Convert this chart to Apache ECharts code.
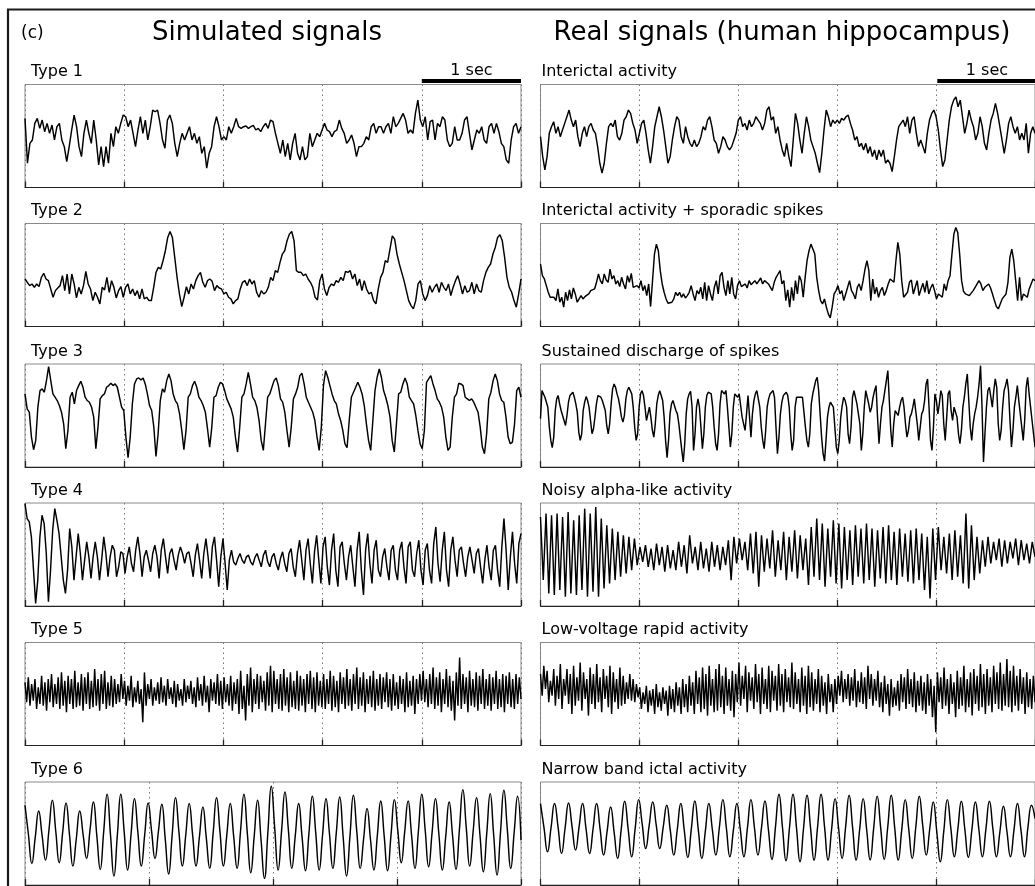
<!DOCTYPE html>
<html><head><meta charset="utf-8">
<script src="https://cdn.jsdelivr.net/npm/echarts@6/dist/echarts.min.js"></script>
<style>html,body{margin:0;padding:0;background:#fff}#chart{width:1035px;height:886px}</style>
</head><body><div id="chart"></div>
<script>
// ---- data (amplitude, arbitrary units, uniformly sampled over the panel duration) ----
const sim1=[208,73,133,143,193,208,178,203,168,193,163,188,143,183,193,143,123,78,123,173,218,183,123,93,163,203,163,133,203,143,68,123,63,123,73,163,123,183,163,193,218,213,183,203,163,123,173,213,163,203,143,183,233,228,233,193,143,118,203,218,193,133,93,133,163,143,163,183,143,163,133,153,103,123,58,103,123,183,213,183,143,153,143,183,163,183,208,183,178,183,185,178,183,187,173,178,168,183,193,178,203,198,163,133,103,143,93,133,83,133,163,103,83,123,83,93,163,123,143,163,153,173,193,173,168,153,168,173,203,178,163,133,143,158,133,93,123,123,133,153,143,183,193,163,183,183,163,183,193,163,213,183,193,208,223,203,163,173,163,223,263,203,183,213,143,198,203,143,193,183,213,203,143,123,133,183,143,143,163,203,213,163,113,143,173,163,183,143,133,183,193,163,193,168,133,123,83,73,143,183,193,163,183];
const sim2=[143,133,123,128,118,128,120,148,160,143,138,113,88,108,116,123,153,108,158,98,158,128,86,118,98,123,166,128,113,78,103,88,68,118,110,148,103,138,118,86,108,120,88,118,128,98,113,93,108,83,113,83,88,78,78,118,163,178,173,198,228,268,286,268,208,148,98,60,88,120,98,128,113,138,153,163,133,118,138,143,136,108,123,116,113,98,103,88,83,68,78,83,113,133,138,123,143,128,138,103,88,108,98,103,118,148,138,168,163,193,218,228,258,278,286,258,168,163,163,153,158,143,133,118,88,80,138,158,113,93,118,128,123,138,133,148,138,166,163,168,143,158,123,143,108,138,113,98,103,78,68,113,148,163,198,193,233,273,263,218,188,163,138,108,78,63,53,78,128,138,98,78,93,123,103,118,128,103,133,118,108,128,93,118,138,153,128,98,123,103,108,133,98,128,108,103,138,163,178,188,218,238,268,276,258,208,148,118,103,78,58,98,143];
const sim3=[220,175,165,90,52,80,180,230,235,225,260,302,260,220,210,200,185,165,130,55,110,210,225,190,230,245,258,240,210,200,195,180,150,55,120,205,215,220,240,245,252,245,250,240,210,180,170,90,28,90,190,250,265,268,262,268,250,220,185,170,120,32,100,200,235,225,260,280,260,220,200,190,160,110,52,110,210,220,245,258,240,210,200,185,165,115,60,120,210,215,240,255,250,230,205,190,175,150,90,45,120,210,220,250,285,250,210,200,180,140,80,50,130,210,220,240,260,268,245,205,195,165,110,60,120,205,220,240,275,282,250,210,195,180,165,140,90,50,120,245,290,270,245,220,200,190,160,140,110,70,58,140,210,225,240,255,240,220,185,130,80,50,140,230,270,295,270,230,210,185,150,80,45,130,220,225,250,268,250,210,200,190,155,110,70,55,110,255,265,275,250,230,205,195,180,150,90,50,60,150,210,220,252,250,245,210,205,200,205,195,180,165,120,60,40,100,205,225,260,280,260,220,200,195,150,90,70,75,130,230,240,210];
const sim4=[308,263,253,208,108,8,78,208,273,248,158,13,108,228,293,258,218,148,78,38,108,233,178,78,148,218,158,78,138,193,148,83,148,193,148,78,138,208,158,88,148,183,168,88,118,163,158,98,148,178,128,103,168,208,158,88,148,168,138,103,158,183,148,83,168,203,148,98,158,173,138,108,153,178,158,128,158,163,128,88,153,188,138,83,158,203,148,83,178,208,138,58,148,203,128,48,138,168,133,123,143,158,138,128,148,153,133,123,146,158,138,118,153,168,133,118,148,158,128,108,143,163,128,103,158,173,118,88,158,198,138,78,168,203,128,68,163,213,138,68,178,208,118,63,168,218,108,58,178,193,128,78,148,183,118,58,168,223,108,33,168,218,128,68,168,198,108,88,148,173,118,78,168,183,108,78,168,193,118,68,178,193,108,88,158,198,108,63,168,188,108,68,188,238,128,73,168,223,108,58,168,208,138,88,168,178,128,88,148,178,138,98,158,173,118,68,138,183,118,78,168,183,108,58,178,263,168,48,148,223,128,68,188,218];
const sim5=[190,130,205,120,185,135,200,110,175,125,210,120,190,105,200,130,215,115,185,125,205,110,220,120,195,100,210,125,200,110,225,115,190,120,215,105,205,125,220,110,195,115,230,120,200,105,215,125,225,110,190,120,210,115,200,125,185,130,215,140,
195,120,180,135,210,115,175,130,195,125,170,70,220,120,185,140,200,120,175,135,190,125,205,130,180,120,200,140,175,125,195,115,185,135,170,120,200,130,180,140,195,125,175,115,205,135,185,120,210,130,180,100,200,135,190,125,215,120,195,110,
205,130,185,120,210,105,190,125,200,95,225,110,180,75,215,120,235,100,200,125,215,110,210,130,195,105,220,120,240,100,225,125,200,110,215,105,230,120,205,100,220,115,195,110,225,105,210,120,200,100,215,125,225,110,205,100,220,120,195,115,
215,110,200,125,225,105,210,115,195,100,220,125,205,110,230,120,200,105,215,125,235,110,205,120,220,100,200,125,210,115,225,105,200,120,215,110,205,130,220,115,200,105,215,120,190,110,210,125,200,100,220,115,195,120,210,95,200,125,215,135,
225,130,200,115,215,125,235,110,205,120,220,100,200,125,230,115,210,105,195,75,220,120,265,110,215,125,205,100,225,120,200,115,220,105,210,125,230,110,200,120,215,105,205,125,225,110,200,115,215,100,210,125,220,115,200,110,215,125,205,140];
const sim6=[240,152,65,144,223,149,75,165,255,161,67,157,247,152,57,140,223,151,80,165,250,148,47,160,273,150,27,150,273,159,45,152,260,158,57,152,247,163,80,161,243,138,33,148,263,160,57,151,245,151,57,146,235,142,50,156,263,160,57,151,245,147,50,161,273,155,37,146,255,137,20,158,297,171,45,162,280,165,50,147,245,144,43,155,267,156,45,152,260,155,50,157,265,146,27,148,270,160,50,140,230,137,45,149,253,148,43,150,257,162,67,160,253,151,50,161,273,164,55,157,260,152,45,147,250,148,47,167,287,172,57,160,263,151,40,157,275,152,30,157,285,167,50,158,267,135];

const real1=[153,93,53,93,163,183,198,163,183,153,173,193,213,233,203,183,203,153,123,163,183,153,183,193,173,163,123,73,43,73,133,183,193,183,203,153,143,163,203,213,233,223,193,173,133,163,193,203,163,113,73,123,183,213,243,213,173,123,73,93,143,183,213,203,153,133,183,153,133,123,143,123,133,153,183,173,203,213,183,143,133,103,123,153,143,123,113,123,143,163,203,213,183,193,173,203,183,193,213,203,193,173,193,233,243,203,213,163,183,143,113,93,133,93,63,143,223,193,143,103,163,213,183,143,123,103,73,45,103,173,233,213,183,203,193,203,193,208,203,213,218,193,173,143,153,123,133,113,133,103,123,93,113,83,113,93,113,73,83,73,48,93,143,183,193,203,183,213,163,203,213,163,123,143,123,103,163,203,223,233,213,173,113,63,83,143,203,243,263,273,243,263,213,163,193,233,203,183,143,163,213,183,133,113,163,203,223,253,223,183,143,103,143,193,213,183,163,183,143,163,143,193,103,163,183,163];
const real2=[188,153,143,123,103,88,83,88,78,113,73,88,58,103,78,110,83,116,98,73,83,93,83,90,93,98,108,103,113,133,158,138,128,158,140,133,173,143,153,128,138,120,148,128,113,153,133,160,118,113,123,116,138,108,123,93,128,60,138,218,248,228,168,128,103,83,70,68,73,83,103,93,103,88,98,86,93,103,123,98,78,108,98,118,83,133,78,123,98,78,118,138,98,153,163,118,93,138,98,148,98,83,123,138,120,123,128,116,138,126,130,138,128,133,146,128,138,133,128,130,108,133,148,158,168,128,138,78,110,58,118,78,138,98,153,138,88,148,198,228,248,254,218,148,108,78,68,83,58,38,26,58,98,108,123,98,108,78,98,118,138,108,98,83,118,128,108,138,173,198,168,78,143,98,118,88,108,118,93,108,128,143,148,133,198,253,218,138,88,93,103,133,140,98,118,138,93,113,130,103,138,98,116,128,108,83,98,103,88,128,108,138,153,218,278,298,283,218,138,106,98,94,93,98,108,118,123,138,128,108,118,113,128,116,98,78,60,53,58,83,78,98,133,208,233,198,138,78,148,78,98,93,88,113,108,143,138];
const real3=[145,230,230,210,215,180,120,80,58,90,170,205,215,190,170,165,140,125,155,195,215,220,225,210,190,165,105,80,100,170,195,212,200,180,140,100,115,150,190,215,220,210,200,205,170,125,100,130,190,235,250,240,220,205,180,150,135,155,205,230,240,245,220,180,120,80,100,180,220,230,215,180,140,160,180,150,110,90,130,190,215,230,215,200,150,80,28,80,160,190,200,185,170,160,130,90,50,15,70,160,205,220,228,180,50,100,180,205,180,120,55,100,180,215,225,230,220,180,120,70,50,100,190,230,235,220,230,180,120,60,100,180,220,215,210,220,185,150,130,110,160,215,220,90,160,200,220,230,225,180,120,80,55,110,180,205,220,225,230,210,120,40,90,160,195,215,220,225,215,180,100,50,80,180,210,215,210,215,210,165,120,80,60,100,190,220,240,260,270,230,160,90,40,18,80,150,180,195,200,180,120,60,40,80,150,185,210,200,180,100,70,120,210,230,210,190,195,130,50,100,180,230,210,190,165,180,210,230,245,150,70,130,180,200,230,260,290,200,110,60,130,170,175,155,180,200,210,180,130,90,110,150,160,180,205,210,130,80,120,160,170,200,250,265,180,80,50,120,220,200,160,190,230,215,130,80,150,220,230,170,140,180,185,150,100,70,110,180,210,250,280,200,120,80,130,160,180,210,250,305,180,15,100,180,230,240,210,180,230,265,240,130,80,110,180,230,245,265,230,140,60,110,180,210,245,200,160,120,80,140,240,270,220,180,140,100,60];
const real4=[268,78,278,38,273,33,278,48,268,28,283,38,258,33,273,48,293,28,278,43,298,28,263,53,243,68,233,78,223,88,213,98,208,108,203,123,
178,133,183,118,173,108,188,123,178,103,183,113,168,108,193,118,183,98,213,128,178,108,193,113,173,103,193,118,183,108,178,123,198,78,208,128,
203,138,193,108,218,98,223,58,213,103,203,113,228,88,198,108,223,78,208,103,228,83,213,108,203,63,238,88,263,78,248,58,233,88,258,68,
248,53,238,78,228,63,243,88,233,68,248,78,233,58,228,83,238,68,243,78,223,63,233,88,218,73,228,68,233,78,218,48,208,23,233,78,
238,108,208,98,218,78,228,88,213,68,278,53,243,78,208,98,198,118,208,128,193,138,203,118,198,128,193,143,203,123,198,138,188,128,193,148];
const real5=[215,150,240,170,225,130,195,150,230,120,210,140,245,110,200,150,230,125,215,95,240,120,205,135,250,105,220,140,200,90,235,125,215,110,245,130,205,100,230,140,210,115,240,95,220,130,200,110,235,120,210,125,190,140,215,135,200,130,185,145,
175,110,160,125,180,100,165,120,170,95,185,115,160,105,175,125,165,90,180,110,170,100,190,120,175,95,200,115,185,100,210,120,190,95,225,125,205,100,235,110,215,90,240,120,200,100,230,105,245,115,210,95,235,120,200,105,225,85,215,130,
250,120,210,140,240,100,220,135,205,110,245,130,215,95,235,125,200,110,240,100,225,135,210,105,245,120,215,100,230,130,205,115,250,110,220,125,200,100,235,120,210,95,240,115,220,105,200,125,230,100,210,120,190,95,215,130,185,100,200,125,
210,150,225,130,200,140,215,120,205,135,230,115,195,130,220,125,205,110,240,140,215,120,200,135,225,115,190,100,210,125,185,90,200,115,175,120,195,105,215,130,205,110,230,125,200,115,220,100,195,120,210,105,190,95,215,120,200,85,180,40,
220,130,205,110,235,120,200,95,215,125,190,85,225,110,205,120,240,100,200,115,220,90,230,125,210,105,245,115,215,95,230,120,205,100,240,125,220,110,250,105,215,120,260,115,225,100,240,120,210,105,230,125,205,95,220,115,200,110,210,130];
const real6=[245,172,100,172,245,175,95,170,247,176,105,175,245,168,95,170,245,168,90,162,235,158,80,166,252,168,85,171,257,183,110,180,250,180,110,175,240,165,90,167,245,164,83,168,253,166,80,162,245,167,90,173,257,171,85,165,245,165,85,171,257,173,90,171,253,165,77,175,273,173,73,173,273,171,70,170,270,172,75,174,273,174,75,167,260,170,80,175,270,172,75,167,260,167,75,171,267,172,77,173,270,172,75,166,257,168,80,173,267,178,90,170,250,160,70,163,257,171,85,168,252,167,83,166,250,167,85,168,252,168,85,161,237,161,85,165,245,165,85,175,240,200];

const simLabels=['Type 1','Type 2','Type 3','Type 4','Type 5','Type 6'];
const realLabels=['Interictal activity','Interictal activity + sporadic spikes','Sustained discharge of spikes','Noisy alpha-like activity','Low-voltage rapid activity','Narrow band ictal activity'];
const simSeconds=[5,5,5,5,5,4];
const realSeconds=[5,5,5,5,5,5];
const panelTitles=['Simulated signals','Real signals (human hippocampus)'];
const figureTag='(c)';
const scaleLabel='1 sec';

// ---- layout / style ----
const FONT='"DejaVu Sans", "Liberation Sans", Arial, sans-serif';
const rowTops=[84.5,223.5,364,503,642.5,782];
const boxH=103, boxW=496, colLeft=[25,540.5], yMax=310;

const simData=[sim1,sim2,sim3,sim4,sim5,sim6];
const realData=[real1,real2,real3,real4,real5,real6];
const smoothRow=[false,false,false,false,false,true];

const grids=[],xAxes=[],yAxes=[],series=[],graphic=[];
function addPanel(col,row,vals,span){
  const idx=grids.length;
  grids.push({left:colLeft[col],top:rowTops[row],width:boxW,height:boxH,show:true,borderColor:'#8a8a8a',borderWidth:1});
  xAxes.push({type:'value',gridIndex:idx,min:0,max:span,interval:1,
    axisLine:{show:true,onZero:false,lineStyle:{color:'#222',width:1}},
    axisTick:{show:true,inside:true,length:6,lineStyle:{color:'#222',width:1.3}},
    axisLabel:{show:false},
    splitLine:{show:true,lineStyle:{color:'#777',width:1,type:[1.5,3.5]}}});
  yAxes.push({type:'value',gridIndex:idx,min:0,max:yMax,show:false,splitLine:{show:false}});
  series.push({type:'line',xAxisIndex:idx,yAxisIndex:idx,
    data:vals.map((v,i)=>[i*span/(vals.length-1),v]),
    showSymbol:false,symbol:'none',smooth:smoothRow[row]?0.5:false,
    lineStyle:{color:'#000',width:1.45},clip:true,silent:true,animation:false});
}
for(let r=0;r<6;r++){addPanel(0,r,simData[r],simSeconds[r]);addPanel(1,r,realData[r],realSeconds[r]);}

function txt(text,x,y,size,align){
  return {type:'text',x:x,y:y,silent:true,style:{text:text,fontSize:size,fontFamily:FONT,fill:'#000',
    align:align,textAlign:align,verticalAlign:'middle',textVerticalAlign:'middle'}};
}
// outer frame
graphic.push({type:'rect',silent:true,shape:{x:8,y:9.5,width:1200,height:1000},style:{fill:'none',stroke:'#1a1a1a',lineWidth:2.2}});
graphic.push(txt(figureTag,21,34,17,'left'));
graphic.push(txt(panelTitles[0],267,33.5,26,'center'));
graphic.push(txt(panelTitles[1],782,33.5,26,'center'));
for(let r=0;r<6;r++){
  graphic.push(txt(simLabels[r],31,rowTops[r]-12.5,16,'left'));
  graphic.push(txt(realLabels[r],541.5,rowTops[r]-12.5,16,'left'));
}
// 1 sec scale bars above first row
for(let c=0;c<2;c++){
  const x0=colLeft[c]+boxW*4/5;
  graphic.push({type:'rect',silent:true,shape:{x:x0,y:79,width:boxW/5,height:4},style:{fill:'#000'}});
  graphic.push(txt(scaleLabel,x0+boxW/10,70.5,16,'center'));
}

const chart=echarts.init(document.getElementById('chart'),null,{renderer:'canvas'});
chart.setOption({backgroundColor:'#fff',animation:false,grid:grids,xAxis:xAxes,yAxis:yAxes,series:series,graphic:graphic});
</script></body></html>
